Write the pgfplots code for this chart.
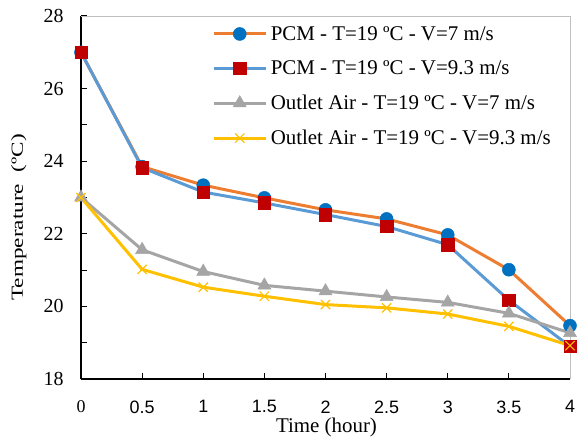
\documentclass[border=0pt]{standalone}
\usepackage{fontspec}
\setmainfont{Liberation Serif}
\newfontfamily\xsans{Liberation Sans}
\usepackage{graphicx}
\usepackage{pgfplots}
\pgfplotsset{compat=1.18}
\definecolor{cOrange}{RGB}{237,125,49}
\definecolor{cBlueM}{RGB}{0,112,192}
\definecolor{cBlueL}{RGB}{91,155,213}
\definecolor{cRed}{RGB}{192,0,0}
\definecolor{cGray}{RGB}{165,165,165}
\definecolor{cYellow}{RGB}{255,192,0}
\begin{document}
\begin{tikzpicture}
\begin{axis}[
  scale only axis, width=489bp, height=363bp,
  xmin=0, xmax=4, ymin=18, ymax=28,
  clip=false,
  axis x line*=bottom, axis y line*=left,
  axis line style={-, line width=1.5bp, black},
  xtick={0,0.5,1,1.5,2,2.5,3,3.5,4},
  xticklabels={{\rmfamily 0},0.5,1,1.5,2,2.5,3,3.5,4},
  xticklabel style={font=\xsans\fontsize{18}{20}\selectfont, yshift=-18bp},
  ytick={18,20,22,24,26,28},
  minor ytick={19,21,23,25,27},
  tick align=inside, major tick length=6bp, minor tick length=6bp,
  tick style={black, line width=1bp},
  yticklabel style={font=\fontsize{20}{24}\selectfont, /pgf/number format/assume math mode=true, xshift=-14bp},
  xlabel={Time (hour)},
  xlabel style={font=\fontsize{21}{24}\selectfont, at={(axis description cs:0.502,0)}, anchor=center, yshift=-48bp},
  ylabel={\scalebox{1.37}[1]{Temperature\ \ (ºC)}},
  ylabel style={font=\fontsize{17}{20}\selectfont, at={(axis description cs:-0.127,0.445)}, anchor=center},
  legend style={at={(axis description cs:0.268,0.975)}, anchor=north west, draw=none, fill=none,
    font=\fontsize{21}{24}\selectfont, row sep=17bp, inner sep=0pt, nodes={inner ysep=1bp, inner xsep=3.5bp}},
  legend cell align=left,
  legend image code/.code={\draw[mark repeat=2,mark phase=2,#1] plot coordinates {(0bp,0bp) (26bp,0bp) (52bp,0bp)};},
]
\draw[cGray!70, line width=0.8bp] (rel axis cs:0,1) -- (rel axis cs:1,1) -- (rel axis cs:1,0);
\addplot[cOrange, line width=3bp, mark=*, mark size=6.5bp, mark options={fill=cBlueM, draw=cBlueM, line width=0.5bp}]
  coordinates {(0,27.0) (0.5,23.85) (1,23.34) (1.5,22.99) (2,22.66) (2.5,22.41) (3,21.97) (3.5,21.01) (4,19.47)};
\addlegendentry{PCM - T=19 ºC - V=7 m/s}
\addplot[cBlueL, line width=3bp, mark=square*, mark size=6.2bp, mark options={fill=cRed, draw=cRed, line width=0.5bp}]
  coordinates {(0,27.0) (0.5,23.82) (1,23.15) (1.5,22.85) (2,22.53) (2.5,22.20) (3,21.70) (3.5,20.17) (4,18.90)};
\addlegendentry{PCM - T=19 ºC - V=9.3 m/s}
\addplot[cGray, line width=3bp, mark=triangle*, mark size=7.5bp, mark options={fill=cGray, draw=cGray, line width=0.5bp}]
  coordinates {(0,23.0) (0.5,21.56) (1,20.96) (1.5,20.58) (2,20.42) (2.5,20.26) (3,20.11) (3.5,19.81) (4,19.27)};
\addlegendentry{Outlet Air - T=19 ºC - V=7 m/s}
\addplot[cYellow, line width=3bp, mark=x, mark size=6.5bp, mark options={draw=cYellow, line width=1.2bp}]
  coordinates {(0,23.0) (0.5,21.02) (1,20.53) (1.5,20.28) (2,20.05) (2.5,19.96) (3,19.79) (3.5,19.45) (4,18.92)};
\addlegendentry{Outlet Air - T=19 ºC - V=9.3 m/s}
\end{axis}
\pgfresetboundingbox
\path (-81bp,-62bp) rectangle (498bp,379bp);
\end{tikzpicture}
\end{document}
